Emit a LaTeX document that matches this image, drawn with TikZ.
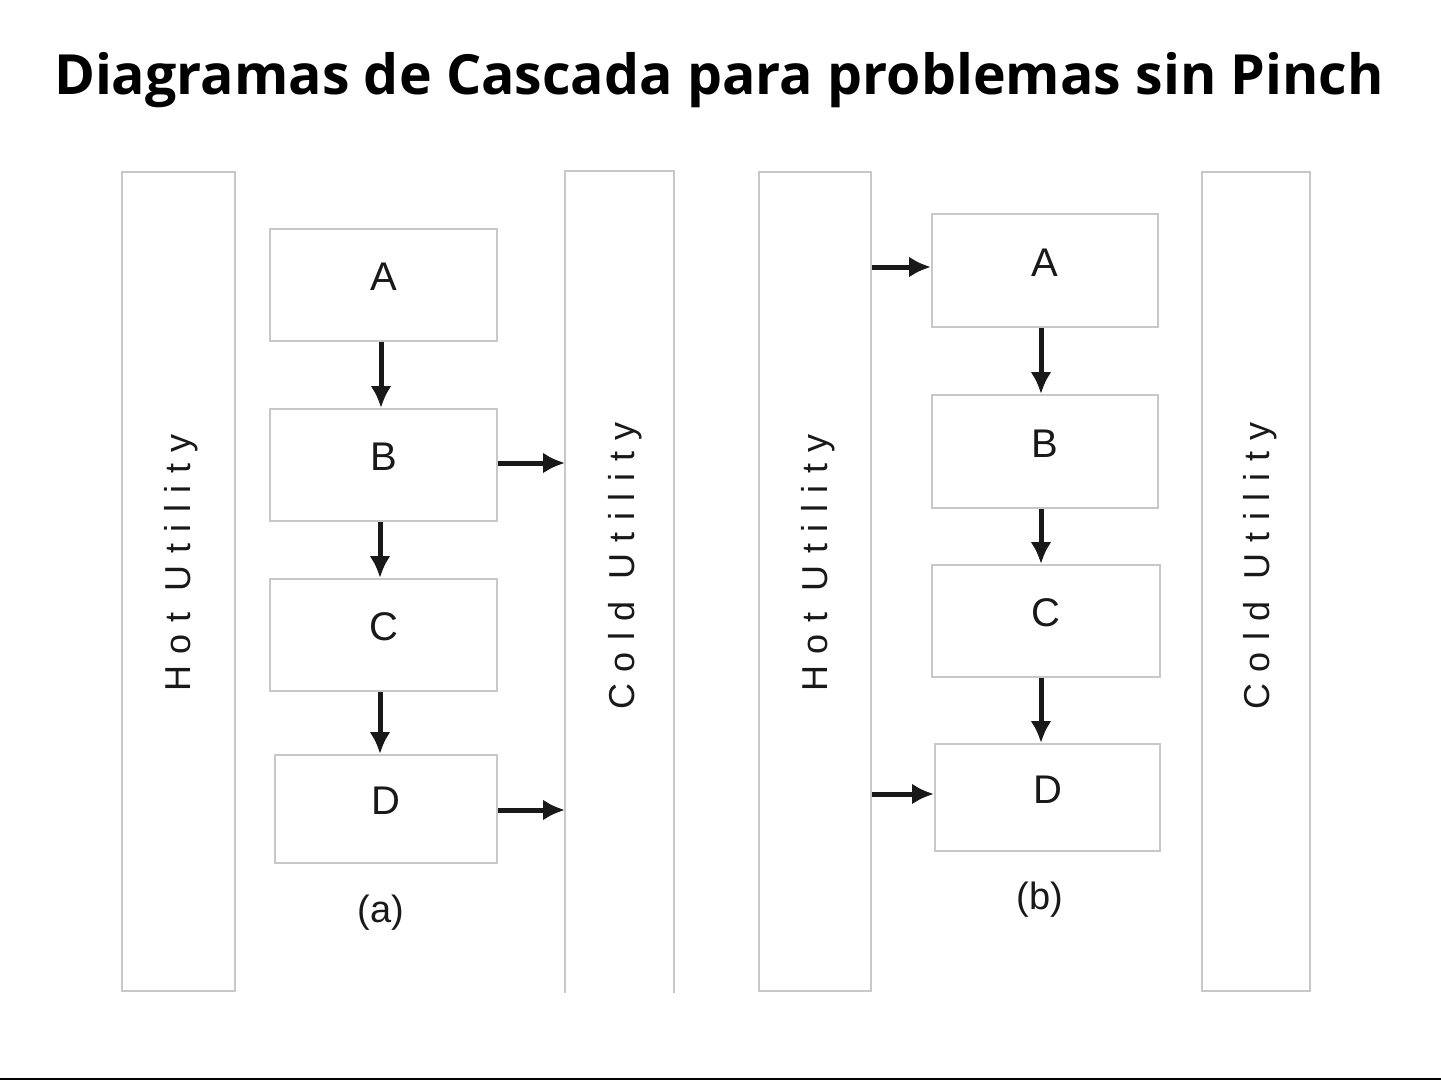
\documentclass[tikz,border=0pt]{standalone}
\usepackage{fontspec}
\setmainfont{Liberation Sans}
\newfontfamily\titlefont{Open Sans}
\usetikzlibrary{arrows.meta,calc}
\definecolor{boxgray}{RGB}{200,200,200}
\definecolor{inkgray}{RGB}{25,25,25}
\tikzset{
  stagebox/.style={draw=boxgray, line width=2pt, minimum width=227pt, minimum height=112pt, inner sep=0pt, text depth=16pt, text=inkgray, font=\fontsize{40}{44}\selectfont},
  utilbox/.style={draw=boxgray, line width=2pt, minimum width=112pt, minimum height=819pt, inner sep=0pt},
  utiltext/.style={rotate=90, text=inkgray, font=\fontsize{36}{40}\selectfont\addfontfeature{LetterSpace=32}},
  flow/.style={line width=5pt, draw=inkgray, -{Latex[length=22pt,width=21pt]}},
  caption/.style={text=inkgray, font=\fontsize{38}{42}\selectfont}
}
\begin{document}
\begin{tikzpicture}[x=1pt,y=-1pt]
\useasboundingbox (0,0) rectangle (1441,1081);
\fill[white] (0,0) rectangle (1441,1081);
\node[font=\titlefont\bfseries\fontsize{55.4}{60}\selectfont, anchor=center] (title) at (719,80) {Diagramas de Cascada para problemas sin Pinch};
% (a)
\node[utilbox, minimum width=113pt] (hotA) at (178.5,581.5) {};
\node[utilbox, draw=none, minimum width=107pt, minimum height=820pt] (coldA) at (619.5,582) {};
\draw[boxgray, line width=2pt] (coldA.south west) -- (coldA.north west) -- (coldA.north east) -- (coldA.south east);
\node[utiltext] (hotAt) at (181,563) {Hot Utility};
\node[utiltext] (coldAt) at (625,566) {Cold Utility};
\node[stagebox] (Aa) at (383.5,285) {A};
\node[stagebox] (Ba) at (383.5,465) {B};
\node[stagebox] (Ca) at (383.5,635) {C};
\node[stagebox, minimum width=222pt, minimum height=108pt] (Da) at (386,809) {D};
\node[caption] (capA) at (381,913) {(a)};
\draw[flow] (Aa.south -| 381,0) -- (Ba.north -| 381,0);
\draw[flow] (Ba.south -| 380,0) -- (Ca.north -| 380,0);
\draw[flow] (Ca.south -| 380,0) -- (Da.north -| 380,0);
\draw[flow] (Ba.east |- 0,463) -- (coldA.west |- 0,463);
\draw[flow] (Da.east |- 0,810) -- (coldA.west |- 0,810);
% (b)
\node[utilbox] (hotB) at (815,581.5) {};
\node[utilbox, minimum width=108pt] (coldB) at (1256,581.5) {};
\node[utiltext] (hotBt) at (818,563) {Hot Utility};
\node[utiltext] (coldBt) at (1260,566) {Cold Utility};
\node[stagebox, minimum width=226pt, minimum height=113pt] (Ab) at (1045,270.5) {A};
\node[stagebox, minimum width=226pt, minimum height=113pt] (Bb) at (1045,451.5) {B};
\node[stagebox, minimum width=228pt] (Cb) at (1046,621) {C};
\node[stagebox, minimum width=225pt, minimum height=107pt] (Db) at (1047.5,797.5) {D};
\node[caption] (capB) at (1040,900) {(b)};
\draw[flow] (Ab.south -| 1041,0) -- (Bb.north -| 1041,0);
\draw[flow] (Bb.south -| 1041,0) -- (Cb.north -| 1041,0);
\draw[flow] (Cb.south -| 1041,0) -- (Db.north -| 1041,0);
\draw[flow] (hotB.east |- 0,267) -- (Ab.west |- 0,267);
\draw[flow] (hotB.east |- 0,794) -- (Db.west |- 0,794);
% bottom rule
\coordinate (ruleL) at (0,1079);
\coordinate (ruleR) at (1441,1079);
\draw[black, line width=2pt] (ruleL) -- (ruleR);
\end{tikzpicture}
\end{document}
